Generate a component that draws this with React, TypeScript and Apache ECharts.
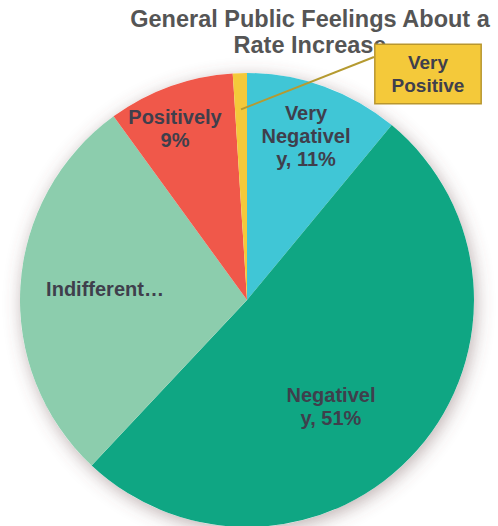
import React, { useEffect, useRef } from "react";
import * as echarts from "echarts";

// ---- data ----
const categories = ["Very Negatively", "Negatively", "Indifferent", "Positively", "Very Positive"];
const values = [11, 51, 28, 9, 1];
const labelTexts = ["Very\nNegativel\ny, 11%", "Negativel\ny, 51%", "Indifferent…", "Positively\n9%", "Very\nPositive"];
const titleLines = ["General Public Feelings About a", "Rate Increase"];

// ---- styles ----
const colors = ["#40C6D6", "#0FA683", "#8CCDAD", "#F0584A", "#F4C93A"];
const CENTER: [number, number] = [247, 300];
const RADIUS = 227;
const labelAnchors: [number, number][] = [
  [306, 136],
  [331, 406],
  [105, 289],
  [175, 128],
  [428, 74],
];
const TEXT_COLOR = "#3f3f4c";

export default function App() {
  const ref = useRef<HTMLDivElement>(null);
  useEffect(() => {
    if (!ref.current) return;
    const chart = echarts.init(ref.current, undefined, { renderer: "svg" });
    const total = values.reduce((a, b) => a + b, 0);
    const lastIdx = values.length - 1;
    const before = values.slice(0, lastIdx).reduce((a, b) => a + b, 0);
    const midFrac = (before + values[lastIdx] / 2) / total;
    const ang = midFrac * Math.PI * 2;
    const lineStart = [CENTER[0] + RADIUS * 0.84 * Math.sin(ang), CENTER[1] - RADIUS * 0.84 * Math.cos(ang)];
    const lineEnd = [labelAnchors[lastIdx][0] - 54, 57];

    chart.setOption({
      animation: false,
      backgroundColor: "#ffffff",
      title: {
        text: titleLines.join("\n"),
        left: 305,
        top: 1,
        textAlign: "center",
        z: 1,
        textStyle: {
          fontFamily: "Liberation Sans, Arial, sans-serif",
          fontSize: 23.5,
          fontWeight: "bold",
          color: "#555555",
          lineHeight: 26,
        },
      },
      graphic: [
        {
          type: "line",
          z: 15,
          silent: true,
          shape: { x1: lineStart[0], y1: lineStart[1], x2: lineEnd[0], y2: lineEnd[1] },
          style: { stroke: "#B59A30", lineWidth: 2 },
        },
      ],
      series: [
        {
          type: "pie",
          silent: true,
          z: 1,
          center: CENTER,
          radius: RADIUS,
          label: { show: false },
          labelLine: { show: false },
          itemStyle: {
            color: "#ffffff",
            shadowBlur: 18,
            shadowColor: "rgba(110,80,80,0.45)",
            shadowOffsetX: 2,
            shadowOffsetY: 4,
          },
          data: [{ value: 1 }],
        },
        {
          type: "pie",
          z: 10,
          center: CENTER,
          radius: RADIUS,
          startAngle: 90,
          clockwise: true,
          avoidLabelOverlap: false,
          itemStyle: { borderWidth: 0 },
          label: {
            show: true,
            position: "inside",
            fontFamily: "Liberation Sans, Arial, sans-serif",
            fontSize: 20,
            fontWeight: "bold",
            color: TEXT_COLOR,
            lineHeight: 23,
            align: "center",
            formatter: (p: any) => labelTexts[p.dataIndex],
          },
          labelLine: { show: false },
          labelLayout: (p: any) => {
            const a = labelAnchors[p.dataIndex];
            return { x: a[0], y: a[1], align: "center", verticalAlign: "middle" };
          },
          data: categories.map((name, i) => {
            const item: any = { name, value: values[i], itemStyle: { color: colors[i] } };
            if (i === lastIdx) {
              item.label = {
                position: "inside",
                backgroundColor: "#F4C93A",
                borderColor: "#B8962E",
                borderWidth: 1.5,
                padding: [6, 16],
                fontSize: 19,
                lineHeight: 23,
              };
            }
            return item;
          }),
        },
      ],
    });
    return () => chart.dispose();
  }, []);
  return (
    <div
      ref={ref}
      style={{ position: "absolute", left: 0, top: 0, width: 498, height: 526 }}
    />
  );
}
